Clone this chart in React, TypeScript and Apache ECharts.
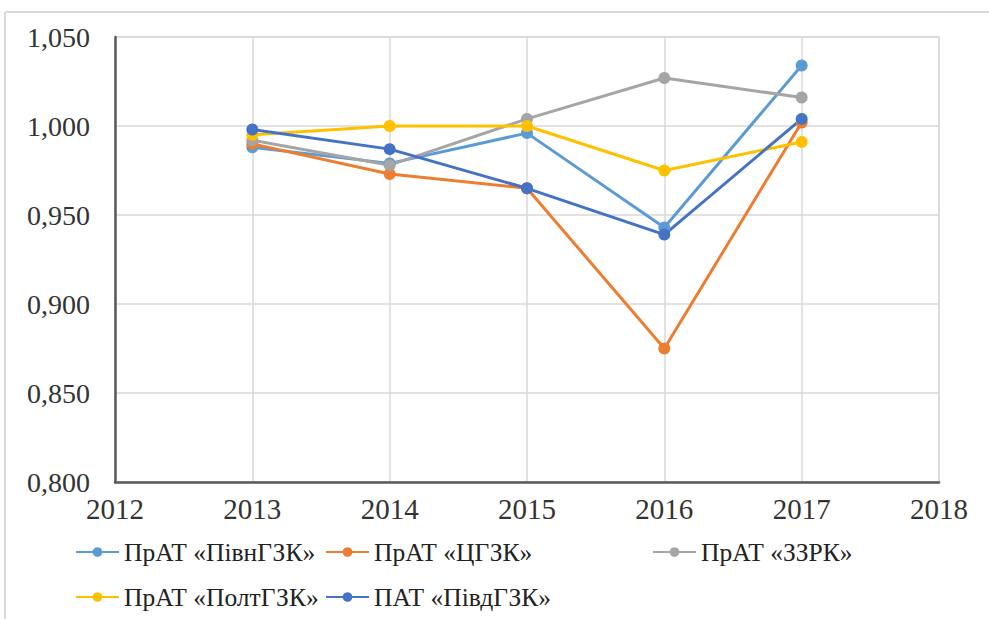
import React, { useEffect, useRef } from "react";
import * as echarts from "echarts";

const years = [2013, 2014, 2015, 2016, 2017];
const seriesNames = [
  "ПрАТ «ПівнГЗК»",
  "ПрАТ «ЦГЗК»",
  "ПрАТ «ЗЗРК»",
  "ПрАТ «ПолтГЗК»",
  "ПАТ «ПівдГЗК»",
];
const pivnGZK = [0.988, 0.979, 0.996, 0.943, 1.034];
const tsGZK = [0.99, 0.973, 0.965, 0.875, 1.002];
const zzrk = [0.992, 0.978, 1.004, 1.027, 1.016];
const poltGZK = [0.995, 1.0, 1.0, 0.975, 0.991];
const pivdGZK = [0.998, 0.987, 0.965, 0.939, 1.004];
const seriesValues = [pivnGZK, tsGZK, zzrk, poltGZK, pivdGZK];
const colors = ["#5B9BD5", "#ED7D31", "#A5A5A5", "#FFC000", "#4472C4"];

const FONT = "Liberation Serif";

// legend slot positions (left, vertical center)
const legendSlots = [
  [75, 552],
  [325, 552],
  [652, 552],
  [75, 597],
  [325, 597],
];

export default function App() {
  const ref = useRef<HTMLDivElement>(null);
  useEffect(() => {
    if (!ref.current) return;
    const chart = echarts.init(ref.current, undefined, { renderer: "svg" });
    const legendText = { fontFamily: FONT, fontSize: 25.5, color: "#222", lineHeight: 26 };
    chart.setOption({
      animation: false,
      backgroundColor: "#fff",
      color: colors,
      textStyle: { fontFamily: FONT },
      grid: {
        left: 115,
        right: 50,
        top: 37,
        bottom: 137,
        show: true,
        borderColor: "#D9D9D9",
        borderWidth: 1.5,
        containLabel: false,
      },
      xAxis: {
        type: "value",
        min: 2012,
        max: 2018,
        interval: 1,
        axisLine: { show: true, lineStyle: { color: "#595959", width: 2.5 } },
        axisTick: { show: false },
        axisLabel: {
          fontFamily: FONT,
          fontSize: 29,
          color: "#333",
          margin: 12,
          formatter: (v: number) => String(v),
        },
        splitLine: { show: true, lineStyle: { color: "#D9D9D9", width: 1.5 } },
      },
      yAxis: {
        type: "value",
        min: 0.8,
        max: 1.05,
        interval: 0.05,
        axisLine: { show: true, lineStyle: { color: "#595959", width: 2.5 } },
        axisTick: { show: false },
        axisLabel: {
          fontFamily: FONT,
          fontSize: 28,
          color: "#333",
          margin: 25,
          formatter: (v: number) => v.toFixed(3).replace(".", ","),
        },
        splitLine: { show: true, lineStyle: { color: "#D9D9D9", width: 1.5 } },
      },
      legend: seriesNames.map((name, i) => ({
        left: legendSlots[i][0],
        top: legendSlots[i][1] - 13,
        padding: 0,
        itemWidth: 43,
        itemHeight: 12,
        textStyle: legendText,
        selectedMode: false,
        data: [name],
      })),
      graphic: [
        {
          type: "line",
          shape: { x1: 5, y1: 12, x2: 989, y2: 12 },
          style: { stroke: "#D9D9D9", lineWidth: 2 },
          silent: true,
        },
        {
          type: "line",
          shape: { x1: 5, y1: 12, x2: 5, y2: 619 },
          style: { stroke: "#D9D9D9", lineWidth: 2 },
          silent: true,
        },
      ],
      series: seriesNames.map((name, i) => ({
        name,
        type: "line",
        data: years.map((y, j) => [y, seriesValues[i][j]]),
        symbol: "circle",
        symbolSize: 12,
        lineStyle: { width: 3, color: colors[i] },
        itemStyle: { color: colors[i] },
      })),
    });
    return () => chart.dispose();
  }, []);
  return (
    <div
      ref={ref}
      style={{ position: "absolute", left: 0, top: 0, width: 989, height: 619 }}
    />
  );
}
